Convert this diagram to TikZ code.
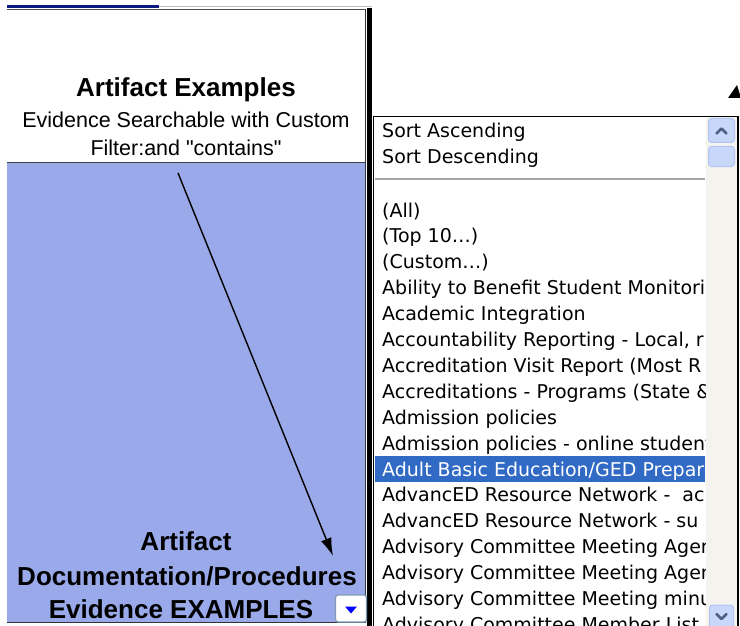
\documentclass[tikz,border=0pt]{standalone}
\usepackage{fontspec}
% plain font family: no TeX quote mapping, so " stays a straight quote
\newfontfamily\headfont{Liberation Sans}
\newfontfamily\listfont{DejaVu Sans}
\usetikzlibrary{arrows.meta,calc}
\definecolor{cellblue}{HTML}{99A9E9}
\definecolor{selblue}{HTML}{316AC5}
\definecolor{navy}{HTML}{0A1A80}
\definecolor{track}{HTML}{F4F3EE}
\definecolor{btnfill}{HTML}{C9D7FB}
\definecolor{btnedge}{HTML}{B1C5F3}
\definecolor{glyph}{HTML}{4D6185}
\definecolor{ddedge}{HTML}{7F9DB9}
\tikzset{
  headbold/.style={anchor=base,inner sep=0pt,font=\headfont\bfseries\fontsize{26}{30}\selectfont},
  headreg/.style={anchor=base,inner sep=0pt,font=\headfont\fontsize{21.5}{25}\selectfont},
  listitem/.style={anchor=base west,inner sep=0pt,font=\listfont\fontsize{19}{22}\selectfont},
  scrollbtn/.style={fill=btnfill,draw=btnedge,line width=1pt,rounded corners=3pt},
  chevron/.style={draw=glyph,line width=2.6pt,line cap=round,line join=round},
}
\begin{document}
\begin{tikzpicture}[x=1pt,y=-1pt]
\useasboundingbox (0,0) rectangle (740,626);
\fill[white] (0,0) rectangle (740,626);

% header cell and filter cell
\fill[white] (7,8) rectangle (366,162);
\fill[cellblue] (7,162) rectangle (366,622);
\draw[navy,line width=2.5pt] (7,6.5) -- (159,6.5);
\draw[black!25,line width=1pt] (159,7) -- (372,7);
\draw[black!70,line width=0.8pt] (7,9) -- (366,9);
\draw[black!75,line width=1.2pt] (7,162.5) -- (366,162.5);
\draw[black!80,line width=1pt] (7,622) -- (366,622);
\draw[black!80,line width=0.8pt] (365.5,9) -- (365.5,622);
\fill[black] (367,8) rectangle (372,626);

\node[headbold] (t1) at (186,97) {Artifact Examples};
\node[headreg] (t2) at (186,128) {Evidence Searchable with Custom};
\node[headreg] (t3) at (186,156) {Filter:and "contains"};

\node[headbold] (b1) at (186,550) {Artifact};
\node[headbold] (b2) at (187,585) {Documentation/Procedures};
\node[headbold] (b3) at (181,618) {Evidence EXAMPLES};

% dropdown button
\node[draw=ddedge,fill=white,line width=1.4pt,rounded corners=2.5pt,minimum width=31pt,minimum height=27pt,inner sep=0pt] (dd) at (351,608.5) {};
\fill[blue] ($(dd.center)+(-6,-2)$) -- ++(12,0) -- ++(-6,7) -- cycle;

% arrow
\coordinate (arrs) at (178,173);
\coordinate (arre) at (333,556);
\draw[line width=1.4pt,-{Latex[length=18pt,width=11pt]}] (arrs) -- (arre);

% small marker
\fill[black] (728,98) -- (741,98) -- (737,85) -- cycle;

% filter list
\fill[white] (373,116) rectangle (738,627);
\fill[track] (706,117) rectangle (737.5,627);
\fill[selblue] (375,456) rectangle (705,482);
\draw[black!35,line width=1.5pt] (375,179) -- (705,179);

\begin{scope}
\clip (375,117) rectangle (705.5,627);
\node[listitem] (sa) at (382,138) {Sort Ascending};
\node[listitem] (sd) at (382,163.5) {Sort Descending};
\foreach \txt [count=\i from 0] in {
  (All),
  (Top 10…),
  (Custom…),
  Ability to Benefit Student Monitori,
  Academic Integration,
  {Accountability Reporting - Local, r},
  Accreditation Visit Report (Most R,
  Accreditations - Programs (State \&,
  Admission policies,
  Admission policies - online student,
  Adult Basic Education/GED Prepar,
  AdvancED Resource Network - \ ac,
  AdvancED Resource Network - su,
  Advisory Committee Meeting Agen,
  Advisory Committee Meeting Agen,
  Advisory Committee Meeting minu,
  Advisory Committee Member List}
{
  \ifnum\i=10
    \node[listitem,text=white] (it\i) at (382,{217+25.9*\i}) {\txt};
  \else
    \node[listitem] (it\i) at (382,{217+25.9*\i}) {\txt};
  \fi
}
\end{scope}

% scrollbar buttons
\node[scrollbtn,minimum width=26pt,minimum height=24pt,inner sep=0pt] (up) at (721.5,130.5) {};
\draw[chevron] ($(up.center)+(-5,3)$) -- ($(up.center)+(0,-2)$) -- ($(up.center)+(5,3)$);
\node[scrollbtn,minimum width=26pt,minimum height=20pt,inner sep=0pt] (thumb) at (721.5,156.5) {};
\node[scrollbtn,minimum width=24pt,minimum height=24pt,inner sep=0pt] (down) at (721.5,617) {};
\draw[chevron] ($(down.center)+(-5,-3)$) -- ($(down.center)+(0,2)$) -- ($(down.center)+(5,-3)$);

\draw[black,line width=1.2pt] (373.5,627) -- (373.5,116.5) -- (738,116.5) -- (738,627);
\end{tikzpicture}
\end{document}
